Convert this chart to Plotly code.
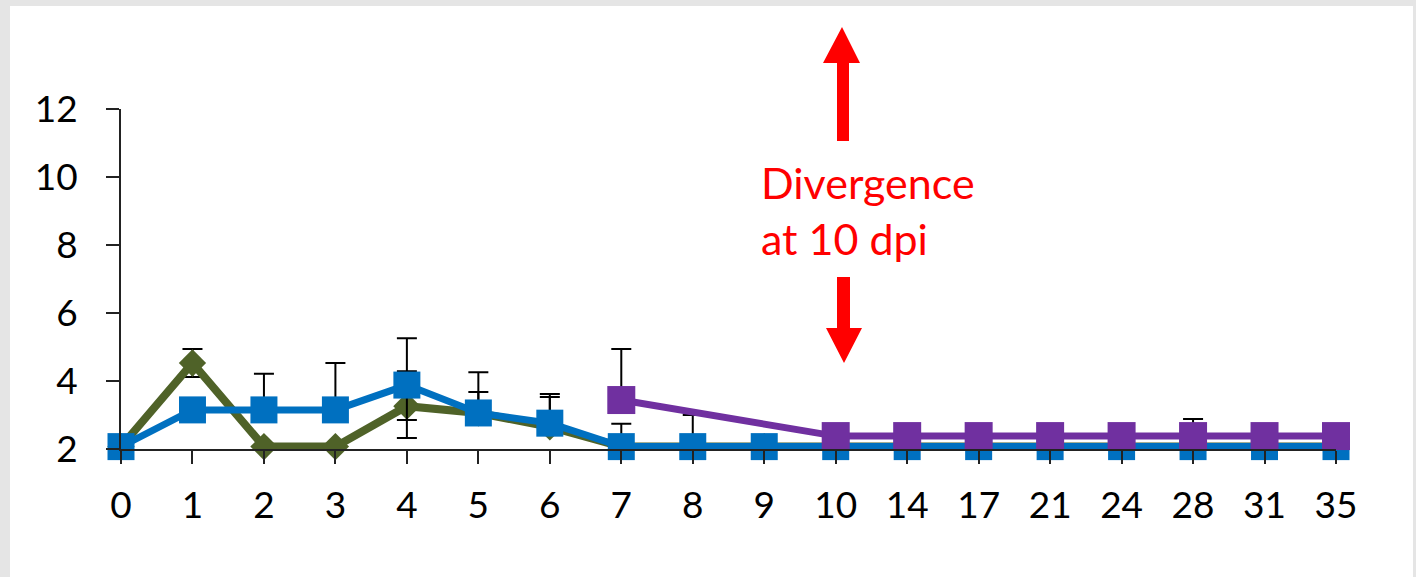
import plotly.graph_objects as go

# ---------------- data ----------------
categories = ["0", "1", "2", "3", "4", "5", "6", "7", "8", "9",
              "10", "14", "17", "21", "24", "28", "31", "35"]

green_vals = [2.07, 4.53, 2.07, 2.07, 3.26, 3.06, 2.65, 2.07, 2.07, 2.07,
              2.07, 2.07, 2.07, 2.07, 2.07, 2.07, 2.07, 2.07]
green_err_plus = [0, 0.41, 0, 0, 1.03, 0.62, 0.88, 0, 0, 0,
                  0, 0, 0, 0, 0, 0, 0, 0]
green_err_minus = [0, 0.41, 0, 0, 0.94, 0, 0, 0, 0, 0,
                   0, 0, 0, 0, 0, 0, 0, 0]

blue_vals = [2.07, 3.15, 3.15, 3.15, 3.88, 3.06, 2.76, 2.07, 2.07, 2.07,
             2.07, 2.07, 2.07, 2.07, 2.07, 2.07, 2.07, 2.07]
blue_err_plus = [0, 0, 1.06, 1.38, 1.38, 1.20, 0.86, 0.67, 0.93, 0,
                 0, 0, 0, 0, 0, 0, 0, 0]
blue_err_minus = [0, 0, 0, 0, 1.03, 0, 0, 0, 0, 0,
                  0, 0, 0, 0, 0, 0, 0, 0]

purple_vals = [None, None, None, None, None, None, None, 3.44, None, None,
               2.38, 2.38, 2.38, 2.38, 2.38, 2.38, 2.38, 2.38]
purple_err_plus = [0, 0, 0, 0, 0, 0, 0, 1.50, 0, 0,
                   0, 0, 0, 0, 0, 0.50, 0, 0]

y_ticks = [2, 4, 6, 8, 10, 12]

# ---------------- layout constants ----------------
W, H = 1416, 577
ML, MR, MT, MB = 121, 80, 109, 128
PW, PH = W - ML - MR, H - MT - MB

xs = list(range(len(categories)))
TICK_FONT = dict(family="Lato", size=37, color="black")

GREEN = "#4F6228"
BLUE = "#0070C0"
PURPLE = "#7030A0"


def err(plus, minus=None):
    d = dict(type="data", symmetric=False, array=plus,
             arrayminus=minus if minus is not None else [0] * len(plus),
             color="black", thickness=2, width=10)
    return d


fig = go.Figure()

fig.add_trace(go.Scatter(
    x=xs, y=green_vals, mode="lines+markers", cliponaxis=False,
    line=dict(color=GREEN, width=8),
    marker=dict(symbol="diamond", size=21, color=GREEN),
    error_y=err(green_err_plus, green_err_minus), showlegend=False))

fig.add_trace(go.Scatter(
    x=xs, y=blue_vals, mode="lines+markers", cliponaxis=False,
    line=dict(color=BLUE, width=7),
    marker=dict(symbol="square", size=27, color=BLUE),
    error_y=err(blue_err_plus, blue_err_minus), showlegend=False))

fig.add_trace(go.Scatter(
    x=xs, y=purple_vals, mode="lines+markers", cliponaxis=False,
    connectgaps=True,
    line=dict(color=PURPLE, width=7),
    marker=dict(symbol="square", size=28, color=PURPLE),
    error_y=err(purple_err_plus), showlegend=False))


def pix_path(pts):
    return "M " + " L ".join(f"{x},{y}" for x, y in pts) + " Z"


shapes = [
    # white card on grey page
    dict(type="rect", xref="paper", yref="paper", xsizemode="pixel", ysizemode="pixel",
         xanchor=0, yanchor=0, x0=10 - ML, x1=1413 - ML, y0=(MT + PH) - H, y1=(MT + PH) - 6,
         fillcolor="white", line=dict(width=0), layer="below"),
    # up arrow
    dict(type="path", xref="paper", yref="paper", xsizemode="pixel", ysizemode="pixel",
         xanchor=0, yanchor=0,
         path=pix_path([(716, 308), (716, 386), (702, 386), (721, 422),
                        (739, 386), (728, 386), (728, 308)]),
         fillcolor="#FF0000", line=dict(width=0), layer="above"),
    # down arrow
    dict(type="path", xref="paper", yref="paper", xsizemode="pixel", ysizemode="pixel",
         xanchor=0, yanchor=0,
         path=pix_path([(716, 172), (716, 121), (705, 121), (723, 86),
                        (741, 121), (729, 121), (729, 172)]),
         fillcolor="#FF0000", line=dict(width=0), layer="above"),
]

annotations = [
    dict(text="Divergence<br>at 10 dpi", xref="paper", yref="paper",
         x=(759 - ML) / PW, y=(MT + PH - 155) / PH, xanchor="left", yanchor="top",
         align="left", showarrow=False,
         font=dict(family="Lato", size=43, color="#FF0000")),
]

fig.update_layout(
    width=W, height=H,
    margin=dict(l=ML, r=MR, t=MT, b=MB, pad=0),
    paper_bgcolor="#E5E5E5", plot_bgcolor="white",
    shapes=shapes, annotations=annotations,
    xaxis=dict(range=[0, len(categories) - 1], tickmode="array", tickvals=xs,
               ticktext=categories, showgrid=False, zeroline=False,
               showline=True, linecolor="#222222", linewidth=2,
               ticks="outside", ticklen=13, tickwidth=2, tickcolor="#222222",
               tickfont=TICK_FONT, ticklabelstandoff=10, fixedrange=True),
    yaxis=dict(range=[2, 12], tickmode="array", tickvals=y_ticks,
               ticktext=[str(v) for v in y_ticks], showgrid=False, zeroline=False,
               showline=True, linecolor="#222222", linewidth=2,
               ticks="outside", ticklen=13, tickwidth=2, tickcolor="#222222",
               tickfont=TICK_FONT, ticklabelstandoff=21, fixedrange=True),
)

fig.write_html("out.html", config={"displayModeBar": False})
